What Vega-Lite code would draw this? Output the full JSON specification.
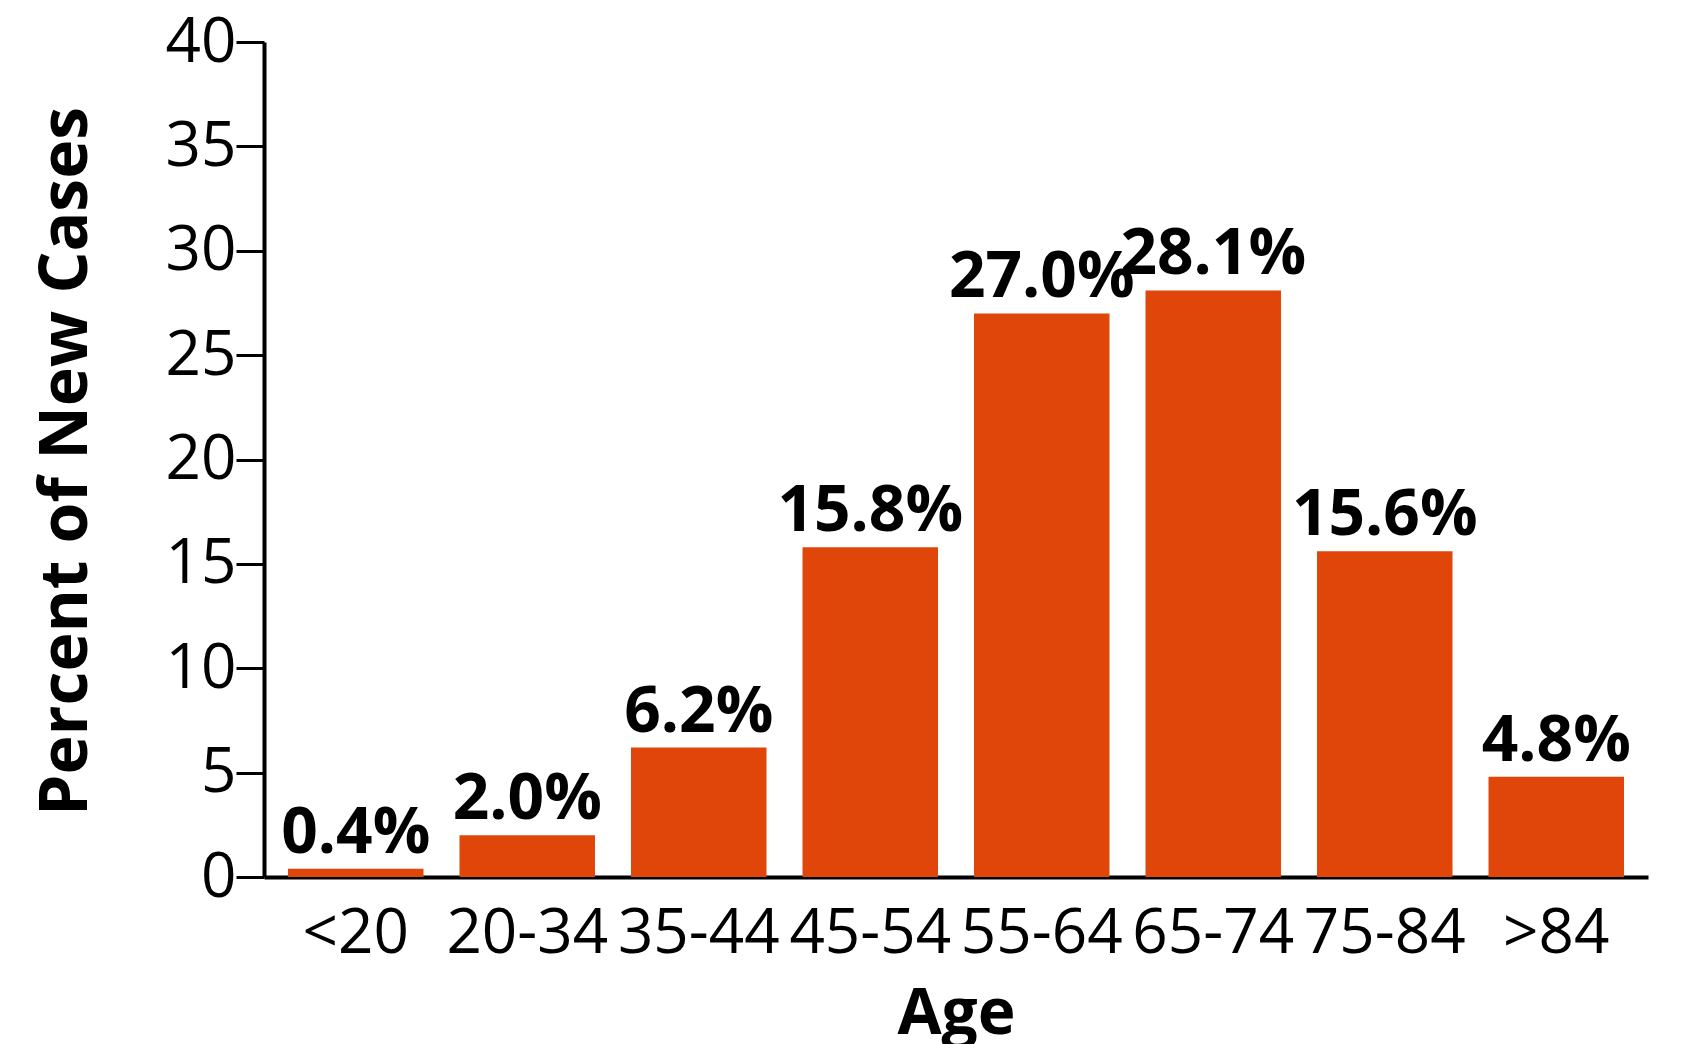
{
  "$schema": "https://vega.github.io/schema/vega-lite/v6.json",
  "autosize": "none",
  "padding": {"left": 264, "top": 42, "right": 39, "bottom": 167},
  "width": 1384,
  "height": 835,
  "background": "white",
  "config": {
    "view": {"stroke": null},
    "font": "Open Sans",
    "axis": {"grid": false}
  },
  "data": {
    "values": [
      {"age": "<20", "pct": 0.4, "label": "0.4%"},
      {"age": "20-34", "pct": 2.0, "label": "2.0%"},
      {"age": "35-44", "pct": 6.2, "label": "6.2%"},
      {"age": "45-54", "pct": 15.8, "label": "15.8%"},
      {"age": "55-64", "pct": 27.0, "label": "27.0%"},
      {"age": "65-74", "pct": 28.1, "label": "28.1%"},
      {"age": "75-84", "pct": 15.6, "label": "15.6%"},
      {"age": ">84", "pct": 4.8, "label": "4.8%"}
    ]
  },
  "encoding": {
    "x": {
      "field": "age",
      "type": "nominal",
      "sort": null,
      "scale": {"paddingInner": 0.21, "paddingOuter": 0.14},
      "axis": {
        "title": "Age",
        "titleFont": "Open Sans",
        "titleFontSize": 64,
        "titleFontWeight": "bold",
        "titleColor": "black",
        "titleBaseline": "alphabetic",
        "titleY": 156,
        "labelAngle": 0,
        "labelFont": "Open Sans",
        "labelFontSize": 62,
        "labelColor": "black",
        "labelBaseline": "alphabetic",
        "labelPadding": 75,
        "ticks": false,
        "domainColor": "black",
        "domainWidth": 4
      }
    },
    "y": {
      "field": "pct",
      "type": "quantitative",
      "scale": {"domain": [0, 40], "nice": false},
      "axis": {
        "title": "Percent of New Cases",
        "titleFont": "Open Sans",
        "titleFontSize": 66,
        "titleFontWeight": "bold",
        "titleColor": "black",
        "titleAngle": -90,
        "titleBaseline": "alphabetic",
        "titleAlign": "center",
        "titleX": -178,
        "titleY": 419,
        "values": [0, 5, 10, 15, 20, 25, 30, 35, 40],
        "labelFont": "Open Sans",
        "labelFontSize": 62,
        "labelColor": "black",
        "labelPadding": 0,
        "labelBaseline": "middle",
        "tickSize": 28,
        "tickColor": "black",
        "tickWidth": 3,
        "domainColor": "black",
        "domainWidth": 4
      }
    }
  },
  "layer": [
    {"mark": {"type": "bar", "color": "#E0450A"}},
    {
      "mark": {
        "type": "text",
        "font": "Open Sans",
        "fontSize": 64,
        "fontWeight": "bold",
        "color": "black",
        "baseline": "alphabetic",
        "dy": -16
      },
      "encoding": {"text": {"field": "label"}}
    }
  ]
}
